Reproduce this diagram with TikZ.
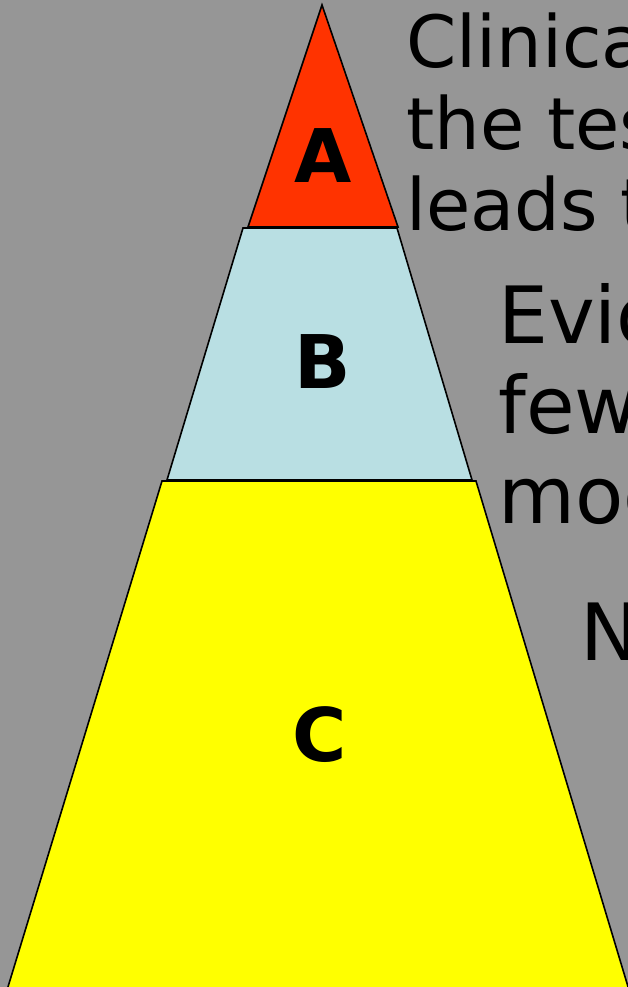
\documentclass[tikz,border=0pt]{standalone}
\usepackage{fontspec}
\setmainfont{DejaVu Sans}
\definecolor{bg}{RGB}{150,150,150}
\definecolor{secA}{RGB}{255,51,0}
\definecolor{secB}{RGB}{185,223,227}
\definecolor{secC}{RGB}{255,255,0}
\begin{document}
\begin{tikzpicture}[x=1pt,y=-1pt,
  layer/.style={draw=black, line width=1.6pt, line join=miter},
  lbl/.style={inner sep=0pt, anchor=center, font=\fontsize{74}{74}\selectfont\bfseries},
  txtone/.style={inner sep=0pt, anchor=base west, font=\fontsize{72}{72}\selectfont},
  txttwo/.style={inner sep=0pt, anchor=base west, font=\fontsize{79}{79}\selectfont}]
\useasboundingbox (0,0) rectangle (628,987);
\clip (0,0) rectangle (628,987);
\fill[bg] (0,0) rectangle (628,987);
% layer C
\draw[layer, fill=secC] (162,481) -- (476,481) -- (632,1000) -- (4,1000) -- cycle;
% layer B
\draw[layer, fill=secB] (243,228) -- (397,228) -- (472,480) -- (167,480) -- cycle;
% layer A
\draw[layer, fill=secA] (322,5) -- (398,227) -- (248,227) -- cycle;
% labels
\node[lbl] (la) at (323,156) {A};
\node[lbl] (lb) at (323,362) {B};
\node[lbl] (lc) at (320,735) {C};
% texts
\node[txtone] (t1) at (406,68) {Clinica};
\node[txtone] (t2) at (406,150) {the tes};
\node[txtone] (t3) at (406,230) {leads t};
\node[txttwo] (t4) at (498,343) {Evid};
\node[txttwo] (t5) at (498,433) {few};
\node[txttwo] (t6) at (498,523) {mod};
\node[txttwo] (t7) at (580,660) {N};
\end{tikzpicture}
\end{document}
